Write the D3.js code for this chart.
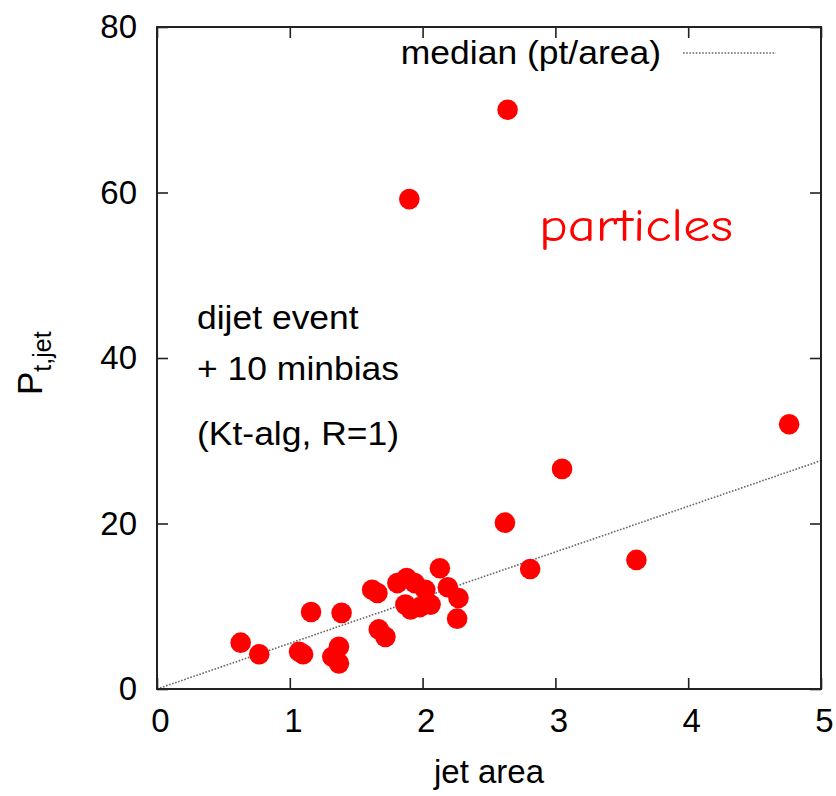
<!DOCTYPE html>
<html>
<head>
<meta charset="utf-8">
<script src="https://cdn.jsdelivr.net/npm/d3@7"></script>
<style>
  html, body { margin: 0; padding: 0; background: #fff; }
  svg text { font-family: "Liberation Sans", Arial, sans-serif; }
</style>
</head>
<body>
<svg id="chart" width="836" height="796"></svg>
<script>
// ---- data ----
const jetArea = [0.63, 0.77, 1.07, 1.10, 1.16, 1.32, 1.37, 1.37, 1.39, 1.62, 1.66, 1.67, 1.72,
                 1.81, 1.88, 1.94, 2.02, 1.87, 1.91, 1.98, 2.06, 2.13, 2.19, 2.27, 2.26,
                 2.62, 2.81, 3.05, 3.61, 4.76, 1.90, 2.64];
const ptJet   = [5.6, 4.2, 4.5, 4.2, 9.3, 3.9, 5.1, 3.1, 9.2, 12.0, 11.6, 7.2, 6.3,
                 12.8, 13.4, 12.8, 12.0, 10.2, 9.6, 9.9, 10.2, 14.6, 12.3, 11.0, 8.5,
                 20.1, 14.5, 26.6, 15.6, 32.0, 59.2, 70.0];
const medianArea = [0, 5];
const medianPt   = [0, 27.6];
const xTicks = [0, 1, 2, 3, 4, 5];
const yTicks = [0, 20, 40, 60, 80];
const annotations = ["dijet event", "+ 10 minbias", "(Kt-alg, R=1)"];
const legendLabel = "median (pt/area)";

// ---- layout ----
const svg = d3.select("#chart");
const L = 157, R = 821, T = 27, B = 689;
const x = d3.scaleLinear().domain([0, 5]).range([L, R]);
const y = d3.scaleLinear().domain([0, 80]).range([B, T]);
const tickLen = 11;
const fs = 33;
const stretch = 1.075;

// median dotted line
const line = d3.line().x(d => x(d[0])).y(d => y(d[1]));
svg.append("path")
  .datum(medianArea.map((a, i) => [a, medianPt[i]]))
  .attr("d", line)
  .attr("fill", "none")
  .attr("stroke", "#666")
  .attr("stroke-width", 1.6)
  .attr("stroke-dasharray", "1.6,1.6");

// points
svg.append("g").selectAll("circle")
  .data(jetArea.map((a, i) => [a, ptJet[i]]))
  .join("circle")
  .attr("cx", d => x(d[0]))
  .attr("cy", d => y(d[1]))
  .attr("r", 10.3)
  .attr("fill", "#ff0000");

// axes with inward ticks, mirrored
function styleAxis(g) {
  g.select(".domain").remove();
  g.selectAll(".tick line").attr("stroke", "#222").attr("stroke-width", 1.6);
  g.selectAll(".tick text").attr("font-size", fs).attr("fill", "#000")
    .attr("font-family", "Liberation Sans, Arial, sans-serif");
}
const gx = svg.append("g").attr("transform", `translate(0,${B})`)
  .call(d3.axisBottom(x).tickValues(xTicks).tickSize(-tickLen).tickPadding(20).tickFormat(d3.format("d")));
styleAxis(gx);
gx.selectAll(".tick text").attr("dy", "0.71em").attr("transform", "translate(3,0)");

const gxt = svg.append("g").attr("transform", `translate(0,${T})`)
  .call(d3.axisTop(x).tickValues(xTicks).tickSize(-tickLen).tickFormat(""));
styleAxis(gxt);

const gy = svg.append("g").attr("transform", `translate(${L},0)`)
  .call(d3.axisLeft(y).tickValues(yTicks).tickSize(-tickLen).tickPadding(20).tickFormat(d3.format("d")));
styleAxis(gy);

const gyr = svg.append("g").attr("transform", `translate(${R},0)`)
  .call(d3.axisRight(y).tickValues(yTicks).tickSize(-tickLen).tickFormat(""));
styleAxis(gyr);

// frame
svg.append("rect")
  .attr("x", L).attr("y", T).attr("width", R - L).attr("height", B - T)
  .attr("fill", "none").attr("stroke", "#222").attr("stroke-width", 2);

// axis labels
svg.append("text")
  .attr("x", (L + R) / 2).attr("y", 783)
  .attr("text-anchor", "middle").attr("font-size", fs)
  .text("jet area");

const yl = svg.append("text")
  .attr("transform", "translate(42,395) rotate(-90)")
  .attr("text-anchor", "start").attr("font-size", 35);
yl.append("tspan").text("P");
yl.append("tspan").attr("font-size", 25).attr("dy", 9).text("t,jet");

// annotation text
const annY = [329, 380, 445];
svg.append("g").selectAll("text")
  .data(annotations)
  .join("text")
  .attr("transform", (d, i) => `translate(197,${annY[i]}) scale(${stretch},1)`)
  .attr("font-size", fs)
  .text(d => d);

// legend
svg.append("text")
  .attr("transform", `translate(661,64) scale(${stretch},1)`)
  .attr("text-anchor", "end").attr("font-size", fs)
  .text(legendLabel);
svg.append("line")
  .attr("x1", 683).attr("x2", 776).attr("y1", 53).attr("y2", 53)
  .attr("stroke", "#666").attr("stroke-width", 1.6)
  .attr("stroke-dasharray", "1.6,1.6");

// "particles" label
svg.append("text")
  .attr("transform", "translate(539,241) scale(1.18,1)")
  .attr("font-size", 46)
  .attr("fill", "#ff0000")
  .style("font-family", "'Comic Sans MS', 'Comic Neue', 'DejaVu Sans', sans-serif")
  .text("particles");
</script>
</body>
</html>
